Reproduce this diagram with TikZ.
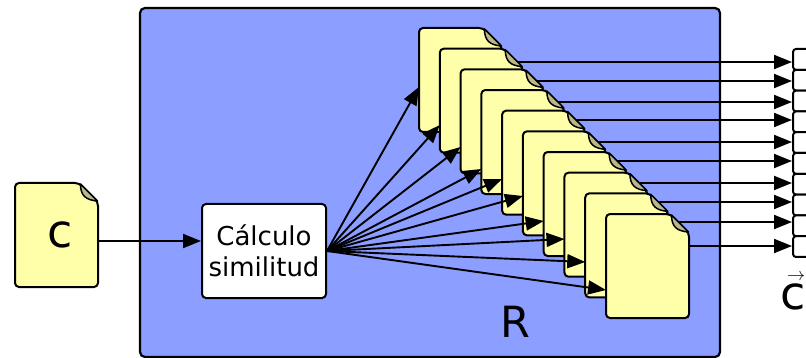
\documentclass[tikz,border=0pt]{standalone}
\usepackage{fontspec}
\setmainfont{DejaVu Sans}
\usetikzlibrary{arrows.meta}
\definecolor{boxblue}{HTML}{8C9EFF}
\definecolor{docyellow}{HTML}{FFFFAA}
\definecolor{docfold}{HTML}{B8B888}
\tikzset{
  docline/.style={draw=black, line width=2pt, line join=round},
  docbox/.style={anchor=north west, minimum width=83pt, minimum height=104pt, inner sep=0pt, font=\fontsize{46}{46}\selectfont},
  linkarrow/.style={line width=1.9pt, -{Triangle[length=18pt,width=14pt]}},
}
\newcommand{\docfile}[3]{
  \begin{scope}[shift={(#2)}]
    \draw[docline, fill=docyellow, rounded corners=4pt] (0,52) -- (0,0) -- (64,0) -- (83,19) -- (83,104) -- (0,104) -- cycle;
    \draw[fill=docfold, line width=1.5pt, line join=round] (65.5,1) .. controls (65.5,13) and (71,17) .. (82.5,18) -- cycle;
  \end{scope}
  \node[docbox] (#1) at (#2) {#3};
}
\begin{document}
\begin{tikzpicture}[x=1pt, y=-1pt]
\clip (0,0) rectangle (806,358);
\draw[line width=2.2pt, fill=boxblue, rounded corners=5pt] (140,8) rectangle (720,357);
\node[docline, fill=white, rounded corners=4pt, minimum width=124pt, minimum height=94pt, inner sep=0pt, align=center, font=\fontsize{26}{31.5}\selectfont] (calc) at (264,251) {Cálculo\\similitud};
\docfile{query}{15,183}{\hspace{6pt}c}
\coordinate (calcin) at ([yshift=10pt]calc.west);
\draw[linkarrow] (query.east |- calcin) -- (calcin);
\foreach \i in {0,...,9}
  \node[docline, fill=white, rounded corners=3pt, anchor=north west, minimum width=40pt, minimum height=20.8pt, inner sep=0pt] (cell\i) at (792,48+20.8*\i) {};
\foreach \i/\yout in {0/62,1/81,2/102,3/120,4/142,5/161,6/183,7/202,8/222,9/246} {
  \docfile{doc\i}{419+20.78*\i,28+20.67*\i}{}
  \draw[linkarrow] (doc\i.east |- 0,\yout) -- (cell\i.west |- 0,\yout);
}
\foreach \i/\yin in {0/87,1/125,2/147,3/169,4/179,5/196,6/221,7/239,8/262,9/290}
  \draw[linkarrow] (calc.east) -- (doc\i.west |- 0,\yin);
\node[font=\fontsize{43}{43}\selectfont] (rlabel) at (515,322) {R};
\node[font=\fontsize{46}{46}\selectfont, anchor=base east, inner sep=0pt] (vec) at (806,309) {c};
\node[inner sep=0pt] (vecarrow) at (796,277.5) {\scalebox{1.8}{$\rightarrow$}};
\end{tikzpicture}
\end{document}
